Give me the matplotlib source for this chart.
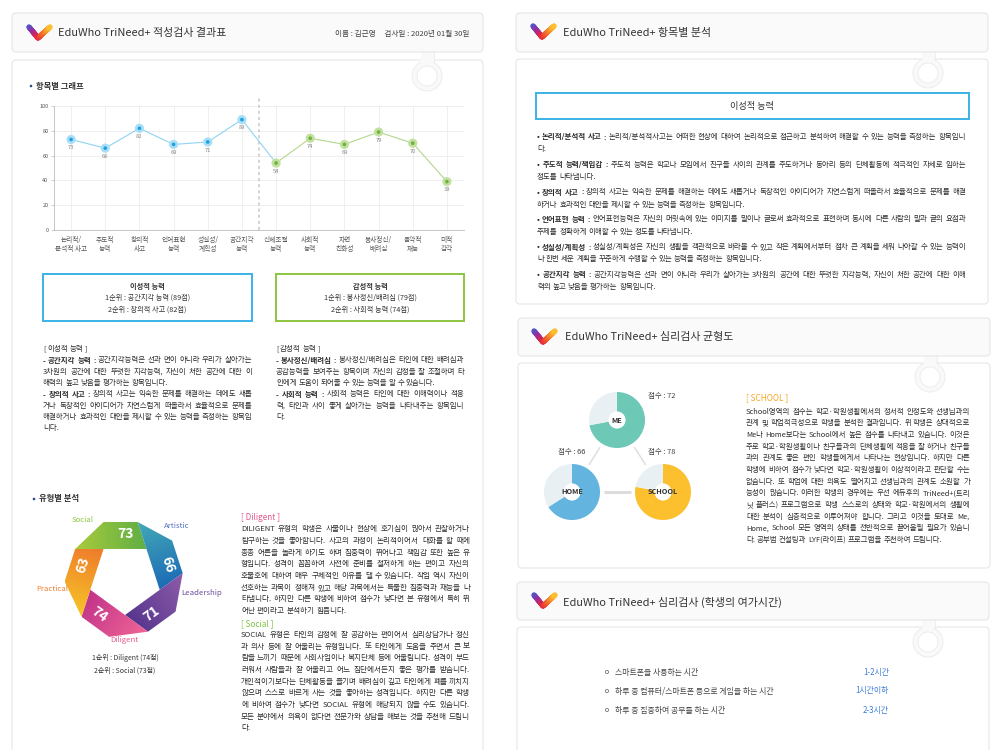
import numpy as np
import matplotlib
matplotlib.use('Agg')
import matplotlib.pyplot as plt
from matplotlib.patches import FancyBboxPatch, Rectangle, Circle, Polygon
from matplotlib.collections import LineCollection
from matplotlib.colors import LinearSegmentedColormap, to_rgb

plt.rcParams['font.family'] = ['Noto Sans CJK KR', 'DejaVu Sans']

# ---------------- data ----------------
report_title = 'EduWho TriNeed+ 적성검사 결과표'
report_info = '이름 : 김근영     검사일 : 2020년 01월 30일'
item_title = 'EduWho TriNeed+ 항목별 분석'
balance_title = 'EduWho TriNeed+ 심리검사 균형도'
leisure_title = 'EduWho TriNeed+ 심리검사 (학생의 여가시간)'

item_categories = ['논리적/\n분석적 사고', '주도적\n능력', '창의적\n사고', '언어표현\n능력',
                   '성실성/\n계획성', '공간지각\n능력', '신체조절\n능력', '사회적\n능력',
                   '자연\n친화성', '봉사정신/\n배려심', '음악적\n재능', '미적\n감각']
item_scores = [73, 66, 82, 69, 71, 89, 54, 74, 69, 79, 70, 39]
rational_count = 6
y_ticks = [0, 20, 40, 60, 80, 100]

rational_summary = ['이성적 능력', '1순위 : 공간지각 능력 (89점)', '2순위 : 창의적 사고 (82점)']
emotional_summary = ['감성적 능력', '1순위 : 봉사정신/배려심 (79점)', '2순위 : 사회적 능력 (74점)']

rational_text = [
    ['[ 이성적 능력 ]'],
    ['**- 공간지각 능력 :** 공간지각능력은 선과 면이 아니라 우리가 살아가는',
     '3차원의 공간에 대한 뚜렷한 지각능력, 자신이 처한 공간에 대한 이',
     '해력의 높고 낮음을 평가하는 항목입니다.'],
    ['**- 창의적 사고 :** 창의적 사고는 익숙한 문제를 해결하는 데에도 새롭',
     '거나 독창적인 아이디어가 자연스럽게 떠올라서 효율적으로 문제를',
     '해결하거나 효과적인 대안을 제시할 수 있는 능력을 측정하는 항목입',
     '니다.'],
]
emotional_text = [
    ['[ 감성적 능력 ]'],
    ['**- 봉사정신/배려심 :** 봉사정신/배려심은 타인에 대한 배려심과',
     '공감능력을 보여주는 항목이며 자신의 감정을 잘 조절하며 타',
     '인에게 도움이 되어줄 수 있는 능력을 알 수 있습니다.'],
    ['**- 사회적 능력 :** 사회적 능력은 타인에 대한 이해력이나 적응',
     '력, 타인과 사이 좋게 살아가는 능력을 나타내주는 항목입니',
     '다.'],
]

type_names = ['Social', 'Artistic', 'Leadership', 'Diligent', 'Practical']
type_scores = [73, 66, 71, 74, 63]
type_ranking = ['1순위 : Diligent (74점)', '2순위 : Social (73점)']

diligent_text = [[
    'DILIGENT 유형의 학생은 사물이나 현상에 호기심이 많아서 관찰하거나',
    '탐구하는 것을 좋아합니다. 사고의 과정이 논리적이어서 대화를 할 때에',
    '종종 어른을 놀라게 하기도 하며 집중력이 뛰어나고 책임감 또한 높은 유',
    '형입니다. 성격이 꼼꼼하여 사전에 준비를 철저하게 하는 편이고 자신의',
    '호불호에 대하여 매우 구체적인 이유를 댈 수 있습니다. 작업 역시 자신이',
    '선호하는 과목이 정해져 있고 해당 과목에서는 특출한 집중력과 재능을 나',
    '타냅니다. 하지만 다른 학생에 비하여 점수가 낮다면 본 유형에서 특히 뛰',
    '어난 편이라고 분석하기 힘듭니다.']]
social_text = [[
    'SOCIAL 유형은 타인의 감정에 잘 공감하는 편이어서 심리상담가나 정신',
    '과 의사 등에 잘 어울리는 유형입니다. 또 타인에게 도움을 주면서 큰 보',
    '람을 느끼기 때문에 사회사업이나 복지단체 등에 어울립니다. 성격이 부드',
    '러워서 사람들과 잘 어울리고 어느 집단에서든지 좋은 평가를 받습니다.',
    '개인적이기보다는 단체활동을 즐기며 배려심이 깊고 타인에게 폐를 끼치지',
    '않으며 스스로 바르게 사는 것을 좋아하는 성격입니다. 하지만 다른 학생',
    '에 비하여 점수가 낮다면 SOCIAL 유형에 해당되지 않을 수도 있습니다.',
    '모든 분야에서 의욕이 없다면 전문가와 상담을 해보는 것을 추천해 드립니',
    '다.']]

item_box_title = '이성적 능력'
item_analysis_text = [
    ['**• 논리적/분석적 사고 :** 논리적/분석적사고는 어떠한 현상에 대하여 논리적으로 접근하고 분석하여 해결할 수 있는 능력을 측정하는 항목입니',
     '다.'],
    ['**• 주도적 능력/책임감 :** 주도적 능력은 학교나 모임에서 친구들 사이의 관계를 주도하거나 동아리 등의 단체활동에 적극적인 자세로 임하는',
     '정도를 나타냅니다.'],
    ['**• 창의적 사고 :** 창의적 사고는 익숙한 문제를 해결하는 데에도 새롭거나 독창적인 아이디어가 자연스럽게 떠올라서 효율적으로 문제를 해결',
     '하거나 효과적인 대안을 제시할 수 있는 능력을 측정하는 항목입니다.'],
    ['**• 언어표현 능력 :** 언어표현능력은 자신의 머릿속에 있는 이미지를 말이나 글로써 효과적으로 표현하며 동시에 다른 사람의 말과 글의 요점과',
     '주제를 정확하게 이해할 수 있는 정도를 나타냅니다.'],
    ['**• 성실성/계획성 :** 성실성/계획성은 자신의 생활을 객관적으로 바라볼 수 있고 작은 계획에서부터 점차 큰 계획을 세워 나아갈 수 있는 능력이',
     '나 한번 세운 계획을 꾸준하게 수행할 수 있는 능력을 측정하는 항목입니다.'],
    ['**• 공간지각 능력 :** 공간지각능력은 선과 면이 아니라 우리가 살아가는 3차원의 공간에 대한 뚜렷한 지각능력, 자신이 처한 공간에 대한 이해',
     '력의 높고 낮음을 평가하는 항목입니다.'],
]

balance_names = ['ME', 'HOME', 'SCHOOL']
balance_scores = [72, 66, 78]
school_text = [[
    'School영역의 점수는 학교·학원생활에서의 정서적 안정도와 선생님과의',
    '관계 및 학업적극성으로 학생을 분석한 결과입니다. 위 학생은 상대적으로',
    'Me나 Home보다는 School에서 높은 점수를 나타내고 있습니다. 이것은',
    '주로 학교·학원생활이나 친구들과의 단체생활에 적응을 잘 하거나 친구들',
    '과의 관계도 좋은 편인 학생들에게서 나타나는 현상입니다. 하지만 다른',
    '학생에 비하여 점수가 낮다면 학교·학원생활이 이상적이라고 판단할 수는',
    '없습니다. 또 학업에 대한 의욕도 떨어지고 선생님과의 관계도 소원할 가',
    '능성이 많습니다. 이러한 학생의 경우에는 우선 에듀후의 TriNeed+(트리',
    '닛 플러스) 프로그램으로 학생 스스로의 상태와 학교·학원에서의 생활에',
    '대한 분석이 심층적으로 이루어져야 합니다. 그리고 이것을 토대로 Me,',
    'Home, School 모든 영역의 상태를 전반적으로 끌어올릴 필요가 있습니',
    '다. 공부법 컨설팅과 LYF(라이프) 프로그램을 추천하여 드립니다.']]

leisure_items = ['스마트폰을 사용하는 시간', '하루 중 컴퓨터/스마트폰 등으로 게임을 하는 시간',
                 '하루 중 집중하여 공부를 하는 시간']
leisure_values = ['1-2시간', '1시간이하', '2-3시간']

# ---------------- styles ----------------
TXT = '#2c2c2c'
BLUE = '#3bb2e6'
GREEN = '#8cc63f'
EDGE = '#e6e6e6'

W, H = 1000, 750
fig = plt.figure(figsize=(10, 7.5), dpi=100)
bg = fig.add_axes([0, 0, 1, 1])
bg.set_xlim(0, W); bg.set_ylim(H, 0); bg.axis('off')
renderer = fig.canvas.get_renderer()


def frect(x0, y0, x1, y1):
    return [x0 / W, 1 - y1 / H, (x1 - x0) / W, (y1 - y0) / H]


def text_w(s, size, bold=False):
    t = bg.text(0, 0, s, fontsize=size, fontweight='bold' if bold else 'normal')
    w = t.get_window_extent(renderer).width
    t.remove()
    return w


def tokenize(line):
    tokens = []
    for k, seg in enumerate(line.split('**')):
        b = (k % 2 == 1)
        for wd in seg.split(' '):
            if wd:
                tokens.append((wd, b))
    return tokens


def natural_width(line, size):
    toks = tokenize(line)
    sp = text_w('가 가', size) - text_w('가가', size)
    return sum(text_w(wd, size, b) for wd, b in toks) + sp * (len(toks) - 1)


def fit_size(paras, width, cap=6.0):
    ref = 10.0
    mw = 1.0
    for para in paras:
        for line in para[:-1]:
            mw = max(mw, natural_width(line, ref))
    return min(cap, ref * width * 0.985 / mw)


def draw_line(x, y, line, width, size, color, justify):
    tokens = tokenize(line)
    arts, widths = [], []
    for wd, b in tokens:
        t = bg.text(x, y, wd, fontsize=size, fontweight='bold' if b else 'normal',
                    color=color, ha='left', va='center', zorder=5)
        widths.append(t.get_window_extent(renderer).width)
        arts.append(t)
    sp = text_w('가 가', size) - text_w('가가', size)
    gap = sp
    if justify and len(tokens) > 1:
        gap = max((width - sum(widths)) / (len(tokens) - 1), sp * 0.3)
    cx = x
    for t, w in zip(arts, widths):
        t.set_x(cx)
        cx += w + gap


def draw_paragraphs(x, y0, paras, width, color, step, para_gap=0.0, size=None):
    if size is None:
        size = fit_size(paras, width)
    y = y0
    for para in paras:
        for j, line in enumerate(para):
            draw_line(x, y, line, width, size, color, j < len(para) - 1)
            y += step
        y += para_gap
    return size


def logo(x, y):
    pts = np.array([[x + 2, y + 3], [x + 11, y + 14], [x + 23, y + 3]])
    n = 40
    path = np.vstack([np.linspace(pts[0], pts[1], n), np.linspace(pts[1], pts[2], n)[1:]])
    segs = np.stack([path[:-1], path[1:]], axis=1)
    cmap = LinearSegmentedColormap.from_list('lg', ['#4b5bd0', '#a02a9c', '#e8253c', '#f2702a', '#fdc02d'])
    lc = LineCollection(segs, colors=cmap(np.linspace(0, 1, len(segs))), linewidths=3.8,
                        capstyle='round', zorder=6)
    bg.add_collection(lc)


def header(x0, y0, x1, y1, title, lx, ly, tx, ty):
    bg.add_patch(FancyBboxPatch((x0, y0), x1 - x0, y1 - y0,
                                boxstyle='round,pad=0,rounding_size=4',
                                fc='#fafafa', ec=EDGE, lw=0.8, zorder=3))
    logo(lx, ly)
    bg.text(tx, ty, title, fontsize=7.9, color='#333333', ha='left', va='center', zorder=6)


def body(x0, y0, x1, y1):
    bg.add_patch(FancyBboxPatch((x0, y0), x1 - x0, y1 - y0,
                                boxstyle='round,pad=0,rounding_size=4',
                                fc='white', ec=EDGE, lw=0.8, zorder=1))


def keyhole(cx, ytop, cy):
    bg.add_patch(Rectangle((cx - 6.5, ytop - 2), 13, cy - ytop, fc='#f9f9f9', ec='#ebebeb', lw=0.6, zorder=2))
    bg.add_patch(Circle((cx, cy), 15, fc='#f9f9f9', ec='#ebebeb', lw=0.6, zorder=2))
    bg.add_patch(Rectangle((cx - 6, ytop - 2), 12, cy - ytop, fc='#f9f9f9', ec='none', zorder=2.1))
    bg.add_patch(Circle((cx, cy), 10, fc='white', ec='#ebebeb', lw=0.6, zorder=2.2))


def section_bullet(x, y, label):
    bg.add_patch(Circle((x, y), 1.3, fc='#2b4a8b', ec='none', zorder=5))
    bg.text(x + 5, y, label, fontsize=6, fontweight='bold', color='#333333', ha='left', va='center', zorder=5)


# ---------------- panel frames ----------------
body(12, 60, 483, 800)
keyhole(427, 52, 76)
header(12, 13, 483, 52, report_title, 27, 24, 58, 33)
bg.text(469, 34, report_info, fontsize=5.5, color='#444444', ha='right', va='center', zorder=6)

body(516, 59, 988, 304)
keyhole(928, 52, 73)
header(516, 13, 988, 52, item_title, 531, 23, 563, 33)

body(518, 363, 990, 568)
keyhole(930, 356, 377)
header(518, 318, 990, 356, balance_title, 532, 328, 565, 337)

body(517, 627, 989, 800)
keyhole(928, 620, 642)
header(517, 582, 989, 620, leisure_title, 532, 592, 563, 602)

# ---------------- line chart ----------------
section_bullet(31, 86, '항목별 그래프')
ax = fig.add_axes(frect(54, 106, 464, 230))
ax.set_facecolor('none')
xs = np.arange(len(item_scores))
ax.set_xlim(-0.5, len(item_scores) - 0.5)
ax.set_ylim(0, 100)
ax.set_yticks(y_ticks)
ax.set_xticks(xs)
ax.set_xticklabels(item_categories, fontsize=4.8, color='#555555', linespacing=1.25)
ax.tick_params(axis='y', labelsize=4.0, labelcolor='#555555', length=2, color='#bbbbbb', width=0.5, pad=2)
ax.tick_params(axis='x', length=0, pad=4)
ax.grid(True, color='#ececec', lw=0.6)
ax.set_axisbelow(True)
for s in ['top', 'right']:
    ax.spines[s].set_visible(False)
for s in ['left', 'bottom']:
    ax.spines[s].set_color('#bbbbbb')
    ax.spines[s].set_linewidth(0.6)
ax.plot([rational_count - 0.5] * 2, [0, 108], ls=(0, (2, 2)), color='#c8c8c8', lw=1.1,
        clip_on=False, zorder=2)
ax.plot(xs[:rational_count + 1], item_scores[:rational_count + 1], color='#8fd3f2', lw=0.8, zorder=3)
ax.plot(xs[rational_count:], item_scores[rational_count:], color='#b3d78b', lw=0.8, zorder=3)
halo = ['#a9def6' if i < rational_count else '#c3e0a0' for i in xs]
dot = ['#1aa3e0' if i < rational_count else '#6db33f' for i in xs]
ax.scatter(xs, item_scores, s=44, c=halo, zorder=4, clip_on=False, linewidths=0)
ax.scatter(xs, item_scores, s=7, c=dot, zorder=5, clip_on=False, linewidths=0)
for i, v in zip(xs, item_scores):
    ax.annotate(str(v), (i, v), xytext=(0, -6), textcoords='offset points', ha='center',
                va='center', fontsize=4.2, color='#888888')

# ---------------- summary boxes ----------------
def summary_box(x0, y0, x1, y1, lines, ec):
    bg.add_patch(Rectangle((x0, y0), x1 - x0, y1 - y0, fc='white', ec=ec, lw=1.4, zorder=3))
    cx = (x0 + x1) / 2
    for k, ln in enumerate(lines):
        bg.text(cx, y0 + 12 + 12 * k, ln, fontsize=5.2, fontweight='bold' if k == 0 else 'normal',
                color='#333333', ha='center', va='center', zorder=5)


summary_box(43, 274, 252, 321, rational_summary, BLUE)
summary_box(276, 274, 464, 321, emotional_summary, GREEN)

draw_paragraphs(43, 349, rational_text, 209, TXT, 11.3)
draw_paragraphs(276, 349, emotional_text, 188, TXT, 11.3)

# ---------------- type ring ----------------
section_bullet(34, 499, '유형별 분석')
cx0, cy0, r_in, w_band = 125.0, 578.5, 36.5, 27.0
angles = np.deg2rad([126, 54, -18, -90, -162])
P = np.array([[cx0 + r_in * np.cos(a), cy0 - r_in * np.sin(a)] for a in angles])
grad = [('#a9cb3b', '#5fae46'), ('#43a9b6', '#1c6ab6'), ('#8e5ca9', '#56358e'),
        ('#f06595', '#c2338a'), ('#f7c527', '#ee7a2b')]
s_ext = w_band / np.sin(np.deg2rad(72))


def gradient_poly(verts, c0, c1, d, zorder=4):
    verts = np.array(verts)
    patch = Polygon(verts, closed=True, fc='none', ec='none', zorder=zorder)
    bg.add_patch(patch)
    xmin, ymin = verts.min(0)
    xmax, ymax = verts.max(0)
    nx, ny = int((xmax - xmin) * 3) + 2, int((ymax - ymin) * 3) + 2
    X, Y = np.meshgrid(np.linspace(xmin, xmax, nx), np.linspace(ymin, ymax, ny))
    proj = X * d[0] + Y * d[1]
    pv = verts @ d
    t = np.clip((proj - pv.min()) / (pv.max() - pv.min()), 0, 1)[..., None]
    img = np.array(to_rgb(c0)) * (1 - t) + np.array(to_rgb(c1)) * t
    im = bg.imshow(img, extent=(xmin, xmax, ymax, ymin), origin='upper', aspect='auto',
                   interpolation='bilinear', zorder=zorder)
    im.set_clip_path(patch)


nP = len(P)
for i in range(nP):
    A, B, Cn = P[i], P[(i + 1) % nP], P[(i + 2) % nP]
    d = (B - A) / np.linalg.norm(B - A)
    dn = (Cn - B) / np.linalg.norm(Cn - B)
    n = np.array([d[1], -d[0]])
    E = A - s_ext * d
    Q = B - s_ext * dn
    R = A + w_band * n
    gradient_poly([E, B, Q, R], grad[i][0], grad[i][1], d)
    mid = (A + B) / 2 + n * w_band * 0.55
    rot = np.degrees(np.arctan2(-d[1], d[0]))
    if rot > 90:
        rot -= 180
    elif rot <= -90:
        rot += 180
    bg.text(mid[0], mid[1], str(type_scores[i]), fontsize=10, fontweight='bold', color='white',
            ha='center', va='center', rotation=rot, rotation_mode='anchor', zorder=7)

type_label_pos = [(126, 72), (45.5, 74), (-10.6, 78), (-90.5, 62), (-172, 73)]
type_colors = ['#8cc63f', '#5472c4', '#6b4c9a', '#e05a8c', '#f08030']
for name, (ang, rad), col in zip(type_names, type_label_pos, type_colors):
    a = np.deg2rad(ang)
    bg.text(cx0 + rad * np.cos(a), cy0 - rad * np.sin(a), name, fontsize=5.6, color=col,
            ha='center', va='center', zorder=6)
for k, ln in enumerate(type_ranking):
    bg.text(125, 658 + 13 * k, ln, fontsize=5.0, color='#333333', ha='center', va='center', zorder=6)

bg.text(241, 517, '[ Diligent ]', fontsize=5.9, color='#e05a8c', ha='left', va='center', zorder=6)
sz = draw_paragraphs(241, 529.3, diligent_text, 229, TXT, 11.67)
bg.text(241, 623.3, '[ Social ]', fontsize=5.9, color='#7dc242', ha='left', va='center', zorder=6)
draw_paragraphs(241, 635, social_text, 229, TXT, 11.67, size=sz)

# ---------------- item analysis panel ----------------
bg.add_patch(Rectangle((536, 93), 433, 26, fc='white', ec=BLUE, lw=1.4, zorder=3))
bg.text(752, 106, item_box_title, fontsize=6.6, color='#333333', ha='center', va='center', zorder=5)
draw_paragraphs(537, 137, item_analysis_text, 429, TXT, 12.5, para_gap=2.5)

# ---------------- balance donuts ----------------
centers = [(617, 420), (572, 492), (663, 492)]
donut_colors = ['#6dc8b5', '#63b5e0', '#fcc02e']
rest_color = '#e8f0f3'
rad_px = 28
pairs = [(0, 1, 1.0), (0, 2, 1.0), (1, 2, 2.2)]
for a_i, b_i, lw in pairs:
    pa, pb = np.array(centers[a_i], float), np.array(centers[b_i], float)
    u = (pb - pa) / np.linalg.norm(pb - pa)
    q0, q1 = pa + u * (rad_px + 4), pb - u * (rad_px + 4)
    bg.plot([q0[0], q1[0]], [q0[1], q1[1]], color='#dcdcdc', lw=lw, solid_capstyle='butt', zorder=3)

score_offsets = [(45, -24), (0, -40), (-1, -40)]
for (cx, cy), name, val, col, off in zip(centers, balance_names, balance_scores, donut_colors, score_offsets):
    dax = fig.add_axes(frect(cx - rad_px, cy - rad_px, cx + rad_px, cy + rad_px))
    dax.pie([val, 100 - val], colors=[col, rest_color], startangle=90, counterclock=False,
            radius=1, wedgeprops=dict(width=0.7, linewidth=0))
    dax.set_xlim(-1, 1); dax.set_ylim(-1, 1); dax.set_aspect('equal'); dax.axis('off')
    dax.add_patch(Circle((0, 0), 0.3, fc='white', ec='none'))
    dax.text(0, 0, name, fontsize=5.3, fontweight='bold', color='#333333', ha='center', va='center')
    bg.text(cx + off[0], cy + off[1], f'점수 : {val}', fontsize=5.4, color='#444444',
            ha='center', va='center', zorder=6)

bg.text(746, 398, '[ SCHOOL ]', fontsize=5.9, color='#f6a623', ha='left', va='center', zorder=6)
draw_paragraphs(746, 411.7, school_text, 224, TXT, 11.67)

# ---------------- leisure ----------------
for k, (item, val) in enumerate(zip(leisure_items, leisure_values)):
    y = 672 + 19 * k
    bg.add_patch(Circle((607, y), 1.6, fc='white', ec='#777777', lw=0.6, zorder=5))
    bg.text(615, y, item, fontsize=5.7, color='#444444', ha='left', va='center', zorder=6)
    bg.text(889, y, val, fontsize=5.7, color='#3d7fd8', ha='right', va='center', zorder=6)

bg.set_xlim(0, W); bg.set_ylim(H, 0)
fig.savefig('out.png', dpi=100, facecolor='white')
